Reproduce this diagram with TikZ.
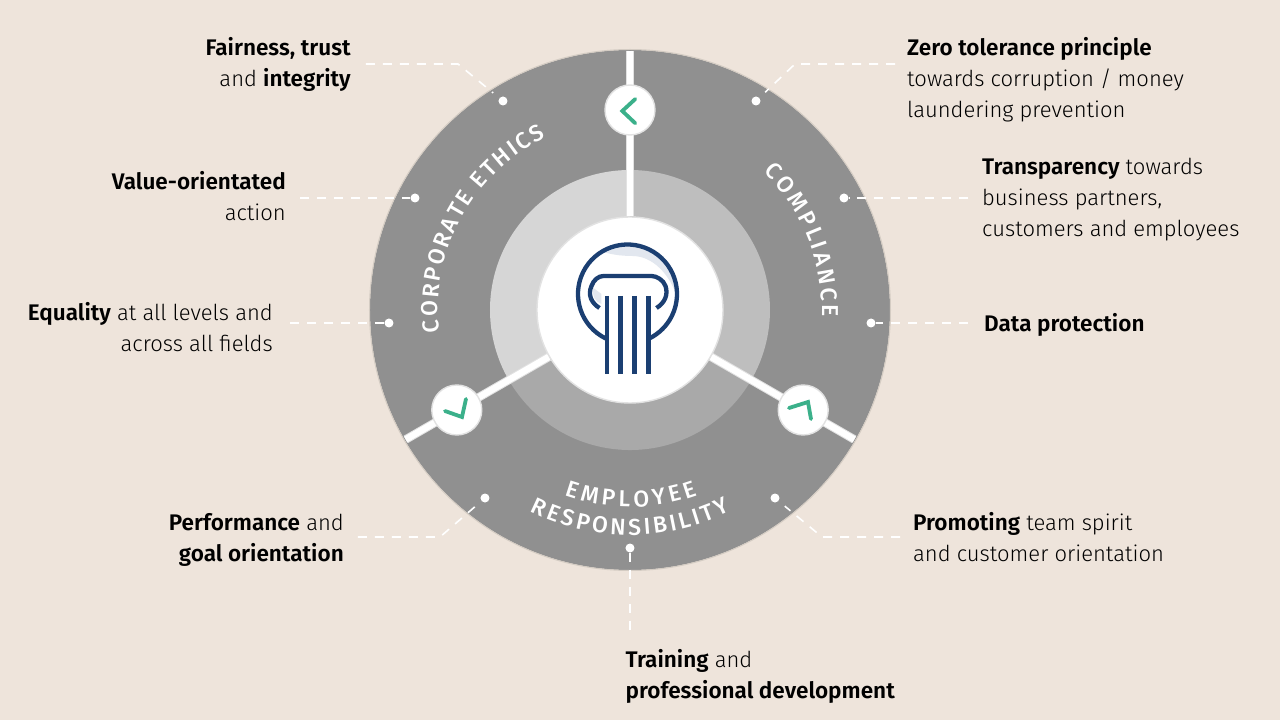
\documentclass[tikz,border=0pt]{standalone}
\usepackage{fontspec}
\setmainfont{Fira Sans}[UprightFont={* Light},BoldFont={* SemiBold},BoldFeatures={Scale=1.025}]
\newfontfamily\ringfont{Fira Sans}[UprightFont={* Medium}]
\usetikzlibrary{decorations.text}
\definecolor{paper}{RGB}{238,228,219}
\definecolor{ringgrey}{RGB}{144,144,144}
\definecolor{rim}{RGB}{212,204,195}
\definecolor{leftgrey}{RGB}{214,214,214}
\definecolor{rightgrey}{RGB}{190,190,190}
\definecolor{lowgrey}{RGB}{169,169,169}
\definecolor{spokeshade}{RGB}{226,226,226}
\definecolor{deepnavy}{RGB}{27,63,114}
\definecolor{paleblue}{RGB}{226,231,239}
\definecolor{chevgreen}{RGB}{59,176,138}
\tikzset{
  leader/.style={white,line width=1.6pt,dash pattern=on 9pt off 8pt},
  dot/.style={circle,fill=white,inner sep=0pt,minimum size=9pt},
  button/.style={circle,fill=white,draw=spokeshade,line width=1.4pt,inner sep=0pt,minimum size=50pt},
  spoke/.style={white,line width=6.5pt},
  chev/.style={chevgreen,line width=3.8pt,line cap=round,miter limit=10},
  col/.style={deepnavy,line width=4.3pt},
  lefttext/.style={align=right,anchor=east,inner sep=0pt,font=\fontsize{22}{31}\selectfont,text=black},
  righttext/.style={align=left,anchor=west,inner sep=0pt,font=\fontsize{22}{31}\selectfont,text=black},
}
\newcommand{\ringstyle}{\ringfont\fontsize{23}{23}\selectfont\color{white}}
\begin{document}
\begin{tikzpicture}[x=1pt,y=1pt]
  \useasboundingbox[fill=paper] (-630,-410) rectangle (650,310);

  % rings
  \fill[ringgrey] (0,0) circle (260);
  \draw[rim,line width=1pt] (0,0) circle (260.5);
  \fill[leftgrey] (0,0) -- (90:140) arc (90:210:140) -- cycle;
  \fill[rightgrey] (0,0) -- (90:140) arc (90:-30:140) -- cycle;
  \fill[lowgrey] (0,0) -- (210:140) arc (210:330:140) -- cycle;

  % spokes and buttons
  \coordinate (endA) at (90:259);
  \coordinate (endB) at (210:259);
  \coordinate (endC) at (330:259);
  \node[circle,inner sep=0pt,minimum size=187pt] (hub) at (0,0) {};
  \foreach \m in {endA,endB,endC}{
    \draw[spokeshade,line width=8.5pt] (hub) -- (\m);
    \draw[spoke] (hub) -- (\m);
  }
  \node[circle,fill=white,draw=spokeshade,line width=1.4pt,inner sep=0pt,minimum size=186pt] (hubtop) at (0,0) {};
  \node[button] (btnA) at (90:200) {};
  \node[button] (btnB) at (210:200) {};
  \node[button] (btnC) at (330:200) {};

  % chevrons
  \draw[chev] (5.3,211) -- (-7.7,199) -- (5.3,186.7);
  \draw[chev] (-185,-101) -- (-168,-107) -- (-164,-89);
  \draw[chev] (159,-98) -- (178,-92) -- (181,-109);

  % column icon
  \begin{scope}[shift={(-2.5,16)}]
    \fill[paleblue] (121:49.5) arc (121:-3:49.5) .. controls (42,20) and (25,38) .. (5,38) .. controls (-8,38) and (-18,40) .. cycle;
    \fill[paleblue] (-34,6) .. controls (-36,-2) and (-32,-8) .. (-26,-10) -- (-26,0) -- cycle;
    \draw[col] (-21.7,-44.5) arc (244:-64:49.5);
    \draw[col] (-28,-14) .. controls (-36,-9) and (-40,-1) .. (-36,8) .. controls (-34,14) and (-29,18) .. (-24,18) -- (24,18) .. controls (29,18) and (36,14) .. (38,8) .. controls (41,-1) and (37,-9) .. (29,-14);
    \foreach \x in {-20.5,-7,7,21}{
      \draw[col] (\x,-2) -- (\x,-79.5);
    }
  \end{scope}

  % ring labels
  \path[decorate,decoration={text along path,text align={fit to path},
    text={|\ringstyle|CORPORATE ETHICS}}]
    (186.6:192) arc (186.6:116:192);
  \path[decorate,decoration={text along path,text align={fit to path},
    text={|\ringstyle|COMPLIANCE}}]
    (46:192) arc (46:-2:192);
  \path[decorate,decoration={text along path,text align={fit to path},
    text={|\ringstyle|EMPLOYEE}}]
    (250.5:197) arc (250.5:290:197);
  \path[decorate,decoration={text along path,text align={fit to path},
    text={|\ringstyle|RESPONSIBILITY}}]
    (243.5:225) arc (243.5:296.5:225);

  % texts
  \node[lefttext] (fair) at (-279,245.5) {\textbf{Fairness, trust}\\and \textbf{integrity}};
  \node[righttext] (zero) at (277,230) {\textbf{Zero tolerance principle}\\towards corruption / money\\laundering prevention};
  \node[lefttext] (value) at (-344,114) {\textbf{Value-orientated}\\action};
  \node[righttext] (trans) at (352,110) {\textbf{Transparency} towards\\business partners,\\customers and employees};
  \node[lefttext] (equal) at (-357,-17) {\textbf{Equality} at all levels and\\across all fields};
  \node[righttext] (data) at (354,-15) {\textbf{Data protection}};
  \node[lefttext] (perf) at (-286,-230) {\textbf{Performance} and\\\textbf{goal orientation}};
  \node[righttext] (promo) at (283,-227) {\textbf{Promoting} team spirit\\and customer orientation};
  \node[righttext] (train) at (-4.5,-366) {\textbf{Training} and\\\textbf{professional development}};

  % dots
  \node[dot] (dfair) at (-127,209) {};
  \node[dot] (dzero) at (126,209) {};
  \node[dot] (dvalue) at (-215,112) {};
  \node[dot] (dtrans) at (214,112) {};
  \node[dot] (dequal) at (-241,-13) {};
  \node[dot] (ddata) at (241,-13) {};
  \node[dot] (dperf) at (-145,-188) {};
  \node[dot] (dpromo) at (145,-188) {};
  \node[dot] (dtrain) at (0,-238) {};

  % leaders
  \draw[leader,shorten >=8pt] (fair.east) ++(15,0.5) -- (-172,246) -- (dfair);
  \draw[leader,shorten >=8pt] (zero.west) ++(-12,16) -- (165,246) -- (dzero);
  \draw[leader] (value.east) ++(14,-2) -- (dvalue);
  \draw[leader] (trans.west) ++(-14,2) -- (dtrans);
  \draw[leader] (equal.east) ++(17,4) -- (dequal);
  \draw[leader] (data.west) ++(-16,2) -- (ddata);
  \draw[leader,shorten >=8pt] (perf.east) ++(14,3) -- (-190,-227) -- (dperf);
  \draw[leader,shorten >=8pt] (promo.west) ++(-13,0) -- (192,-227) -- (dpromo);
  \draw[leader] (dtrain) -- (0,-326);
\end{tikzpicture}
\end{document}
